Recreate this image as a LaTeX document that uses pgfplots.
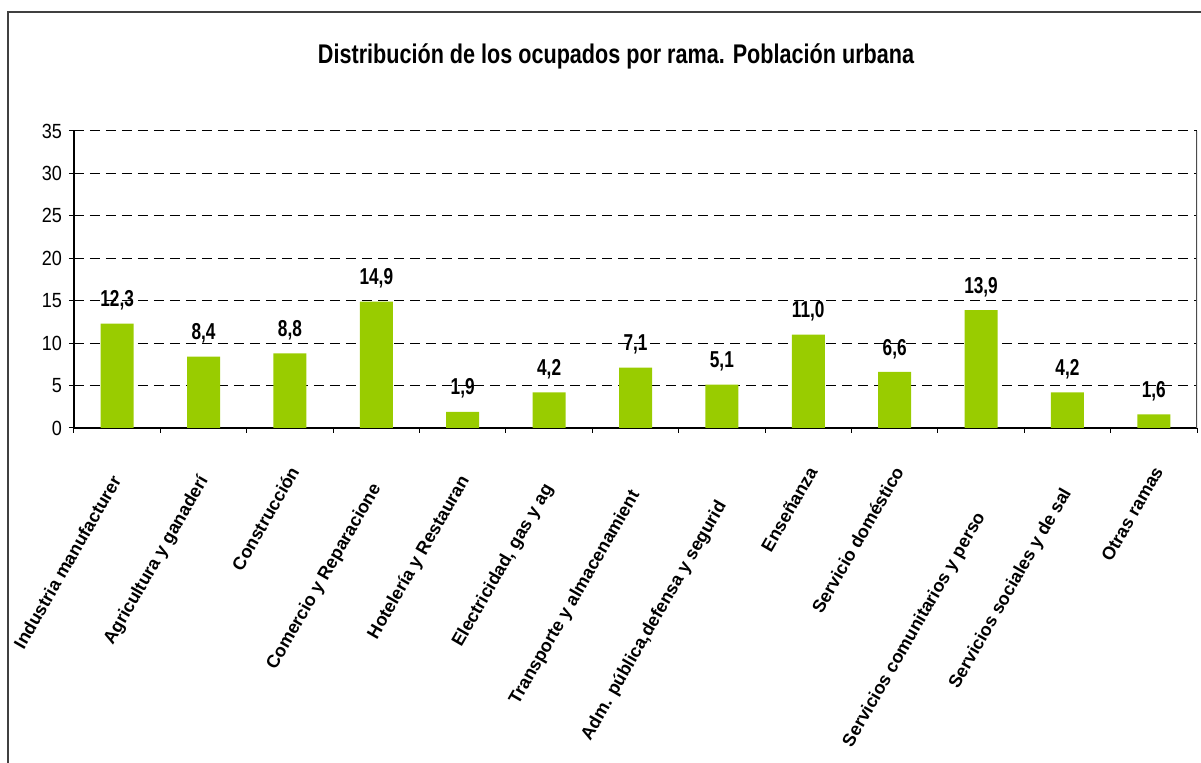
\documentclass[border=0pt]{standalone}
\usepackage{fontspec}
\setmainfont{Liberation Sans}
\newfontfamily\narrowA[FakeStretch=0.80]{Liberation Sans}
\newfontfamily\narrowB[FakeStretch=0.88]{Liberation Sans}
\newfontfamily\narrowC[FakeStretch=0.75]{Liberation Sans}
\usepackage{pgfplots}
\pgfplotsset{compat=1.18}
\definecolor{barg}{HTML}{99CC00}
% truncated label: lower by #1, trailing space #3
\newcommand\tl[3]{\raisebox{-#1}{#2\hspace*{#3}}}
\begin{document}
\begin{tikzpicture}[x=0.5pt,y=0.5pt]
\useasboundingbox (0,0) rectangle (1201,763);
\clip (0,0) rectangle (1201,763);
\draw[line width=1pt, black!75] (8,-5) -- (8,751) -- (1210,751);
\node[font=\narrowA\bfseries\fontsize{13.5}{16}\selectfont] at (616,707) {Distribución de los ocupados por rama. Población urbana};
\begin{axis}[
  at={(37pt,167.5pt)}, anchor=south west,
  scale only axis, width=561.5pt, height=148.5pt,
  ymin=0, ymax=35, ytick={0,5,...,35},
  xmin=-0.5, xmax=12.5,
  axis x line*=bottom, axis y line*=left,
  axis line style={black, line width=0.6pt},
  ymajorgrids,
  grid style={black, dash pattern=on 5pt off 3pt, line width=0.5pt},
  ybar, bar width=16.5pt,
  xtick={0,...,12},
  xticklabels={
    \tl{0pt}{Industria manufacturer}{5pt},
    \tl{0pt}{Agricultura y ganaderí}{5pt},
    Construcción,
    \tl{1.9pt}{Comercio y Reparacione}{8.25pt},
    \tl{0.75pt}{Hotelería y Restauran}{4.3pt},
    {\tl{1.75pt}{Electricidad, gas y ag}{8.5pt}},
    \tl{3.4pt}{Transporte y almacenamient}{11.35pt},
    {\tl{6.25pt}{Adm. pública,defensa y segurid}{15.8pt}},
    Enseñanza,
    Servicio doméstico,
    \tl{8.9pt}{Servicios comunitarios y perso}{20.9pt},
    \tl{2.9pt}{Servicios sociales y de sal}{10.5pt},
    Otras ramas},
  major x tick style={draw=none},
  minor xtick={-0.5,0.5,...,12.5},
  tick align=outside,
  major tick length=2.5pt, minor tick length=2.5pt,
  tick style={black, line width=0.5pt},
  /pgf/number format/assume math mode=true,
  yticklabel style={font=\narrowB\fontsize{10.25}{12}\selectfont},
  xticklabel style={font=\bfseries\fontsize{9}{11}\selectfont, text height=7pt, text depth=2pt, xshift=4.5pt, yshift=-15pt, rotate=60, anchor=east},
  nodes near coords={\pgfmathprintnumber[fixed,fixed zerofill,precision=1,use comma,assume math mode=true]{\pgfplotspointmeta}},
  every node near coord/.append style={font=\narrowC\bfseries\fontsize{11.5}{13}\selectfont, inner sep=0pt, yshift=6.5pt, black, text height=, text depth=},
]
\addplot[fill=barg, draw=none] coordinates {
  (0,12.3) (1,8.4) (2,8.8) (3,14.9) (4,1.9) (5,4.2) (6,7.1)
  (7,5.1) (8,11.0) (9,6.6) (10,13.9) (11,4.2) (12,1.6)};
\draw[black!70, line width=0.6pt] (rel axis cs:1,0) -- (rel axis cs:1,1);
\end{axis}
\end{tikzpicture}
\end{document}
